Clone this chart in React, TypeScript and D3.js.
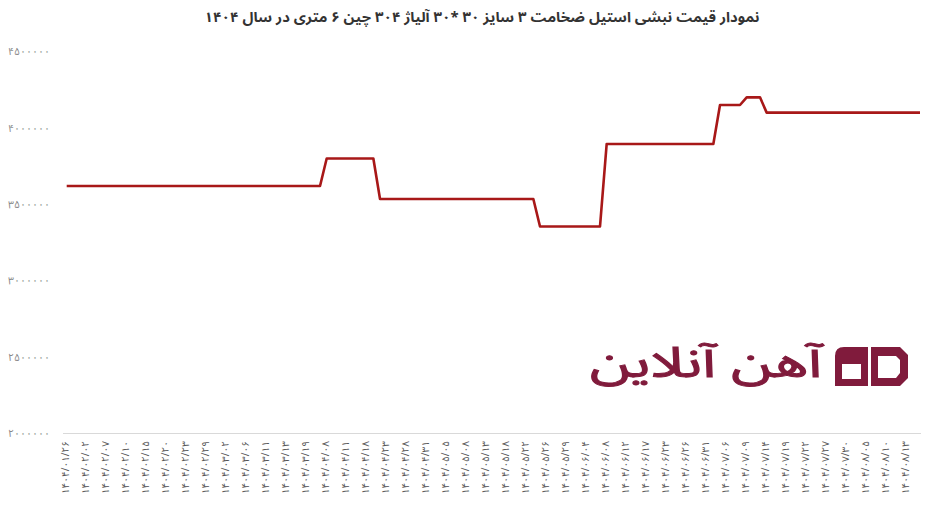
import React from "react";
import * as d3 from "d3";

const title = "نمودار قیمت نبشی استیل ضخامت ۳ سایز ۳۰ *۳۰ آلیاژ ۳۰۴ چین ۶ متری در سال ۱۴۰۴";
const brand = "آهن آنلاین";

const dateLabels = [
  "۱۴۰۴/۰۱/۲۶", "۱۴۰۴/۰۲/۰۲", "۱۴۰۴/۰۲/۰۷", "۱۴۰۴/۰۲/۱۰", "۱۴۰۴/۰۲/۱۵",
  "۱۴۰۴/۰۲/۲۰", "۱۴۰۴/۰۲/۲۳", "۱۴۰۴/۰۲/۲۹", "۱۴۰۴/۰۳/۰۲", "۱۴۰۴/۰۳/۰۶",
  "۱۴۰۴/۰۳/۱۱", "۱۴۰۴/۰۳/۱۳", "۱۴۰۴/۰۳/۱۹", "۱۴۰۴/۰۴/۰۸", "۱۴۰۴/۰۴/۱۱",
  "۱۴۰۴/۰۴/۱۸", "۱۴۰۴/۰۴/۲۳", "۱۴۰۴/۰۴/۲۸", "۱۴۰۴/۰۴/۳۱", "۱۴۰۴/۰۵/۰۵",
  "۱۴۰۴/۰۵/۰۸", "۱۴۰۴/۰۵/۱۳", "۱۴۰۴/۰۵/۱۸", "۱۴۰۴/۰۵/۲۲", "۱۴۰۴/۰۵/۲۶",
  "۱۴۰۴/۰۵/۲۹", "۱۴۰۴/۰۶/۰۴", "۱۴۰۴/۰۶/۰۸", "۱۴۰۴/۰۶/۱۲", "۱۴۰۴/۰۶/۱۷",
  "۱۴۰۴/۰۶/۲۳", "۱۴۰۴/۰۶/۲۶", "۱۴۰۴/۰۶/۳۱", "۱۴۰۴/۰۷/۰۶", "۱۴۰۴/۰۷/۰۹",
  "۱۴۰۴/۰۷/۱۴", "۱۴۰۴/۰۷/۱۹", "۱۴۰۴/۰۷/۲۲", "۱۴۰۴/۰۷/۲۷", "۱۴۰۴/۰۷/۳۰",
  "۱۴۰۴/۰۸/۰۵", "۱۴۰۴/۰۸/۱۰", "۱۴۰۴/۰۸/۱۳",
];

// one price per trading day (labels shown every third day)
const prices = [
  3620000, 3620000, 3620000, 3620000, 3620000, 3620000, 3620000, 3620000, 3620000, 3620000,
  3620000, 3620000, 3620000, 3620000, 3620000, 3620000, 3620000, 3620000, 3620000, 3620000,
  3620000, 3620000, 3620000, 3620000, 3620000, 3620000, 3620000, 3620000, 3620000, 3620000,
  3620000, 3620000, 3620000, 3620000, 3620000, 3620000, 3620000, 3620000, 3620000, 3800000,
  3800000, 3800000, 3800000, 3800000, 3800000, 3800000, 3800000, 3535000, 3535000, 3535000,
  3535000, 3535000, 3535000, 3535000, 3535000, 3535000, 3535000, 3535000, 3535000, 3535000,
  3535000, 3535000, 3535000, 3535000, 3535000, 3535000, 3535000, 3535000, 3535000, 3535000,
  3535000, 3355000, 3355000, 3355000, 3355000, 3355000, 3355000, 3355000, 3355000, 3355000,
  3355000, 3895000, 3895000, 3895000, 3895000, 3895000, 3895000, 3895000, 3895000, 3895000,
  3895000, 3895000, 3895000, 3895000, 3895000, 3895000, 3895000, 3895000, 4150000, 4150000,
  4150000, 4150000, 4200000, 4200000, 4200000, 4100000, 4100000, 4100000, 4100000, 4100000,
  4100000, 4100000, 4100000, 4100000, 4100000, 4100000, 4100000, 4100000, 4100000, 4100000,
  4100000, 4100000, 4100000, 4100000, 4100000, 4100000, 4100000, 4100000, 4100000,
];

const yTicks = [2000000, 2500000, 3000000, 3500000, 4000000, 4500000];
const labelEvery = 3;

const faDigits = "۰۱۲۳۴۵۶۷۸۹";
const toFa = (s: string) => s.replace(/[0-9]/g, (d) => faDigits[+d]);

const FONT = "'Noto Sans Arabic', 'DejaVu Sans', 'Noto Sans', sans-serif";

export default function App() {
  const W = 931, H = 507;
  const idx = prices.map((_, i) => i);
  const x = d3.scalePoint<number>().domain(idx).range([66.7, 920]);
  const y = d3.scaleLinear().domain([2000000, 4500000]).range([433.5, 51.5]);
  const line = d3
    .line<number>()
    .x((_, i) => x(i) as number)
    .y((d) => y(d));

  return (
    <svg
      width={W}
      height={H}
      style={{ position: "absolute", left: 0, top: 0, background: "#fff" }}
      fontFamily={FONT}
    >
      <rect width={W} height={H} fill="#fff" />
      <text
        x={482}
        y={22}
        textAnchor="middle"
        direction="rtl"
        fontSize={14}
        fontWeight="bold"
        fill="#333"
        textLength={555}
        lengthAdjust="spacingAndGlyphs"
      >
        {title}
      </text>

      {yTicks.map((t) => (
        <text
          key={t}
          x={50}
          y={y(t)}
          dy="0.35em"
          textAnchor="end"
          fontSize={10.5}
          fill="#888"
        >
          {toFa(String(t))}
        </text>
      ))}

      <line x1={63} x2={921} y1={y(2000000)} y2={y(2000000)} stroke="#d9d9d9" strokeWidth={1} />

      {dateLabels.map((lab, k) => {
        const px = x(k * labelEvery) as number;
        return (
          <text
            key={k}
            transform={`translate(${px},441) rotate(-90)`}
            textAnchor="end"
            dominantBaseline="middle"
            fontSize={10}
            fill="#555"
          >
            {lab}
          </text>
        );
      })}

      <path d={line(prices) || ""} fill="none" stroke="#A81818" strokeWidth={2.6} strokeLinejoin="round" />

      {/* brand logo */}
      <g fill="#801B3C">
        <text
          x={706}
          y={377}
          textAnchor="middle"
          direction="rtl"
          fontSize={42}
          stroke="#801B3C"
          strokeWidth={1}
          textLength={232}
          lengthAdjust="spacingAndGlyphs"
        >
          {brand}
        </text>
        <path
          fillRule="evenodd"
          d="M844,347 L868,347 L868,386 L835,386 L835,356 Q835,347 844,347 Z M842,364 L861,364 L861,379 L842,379 Z"
        />
        <path
          fillRule="evenodd"
          d="M871,347 L900,347 L908,355 L908,378 L900,386 L871,386 Z M878,356 L896,356 L900,360 L900,373 L896,378 L878,378 Z"
        />
      </g>
    </svg>
  );
}
